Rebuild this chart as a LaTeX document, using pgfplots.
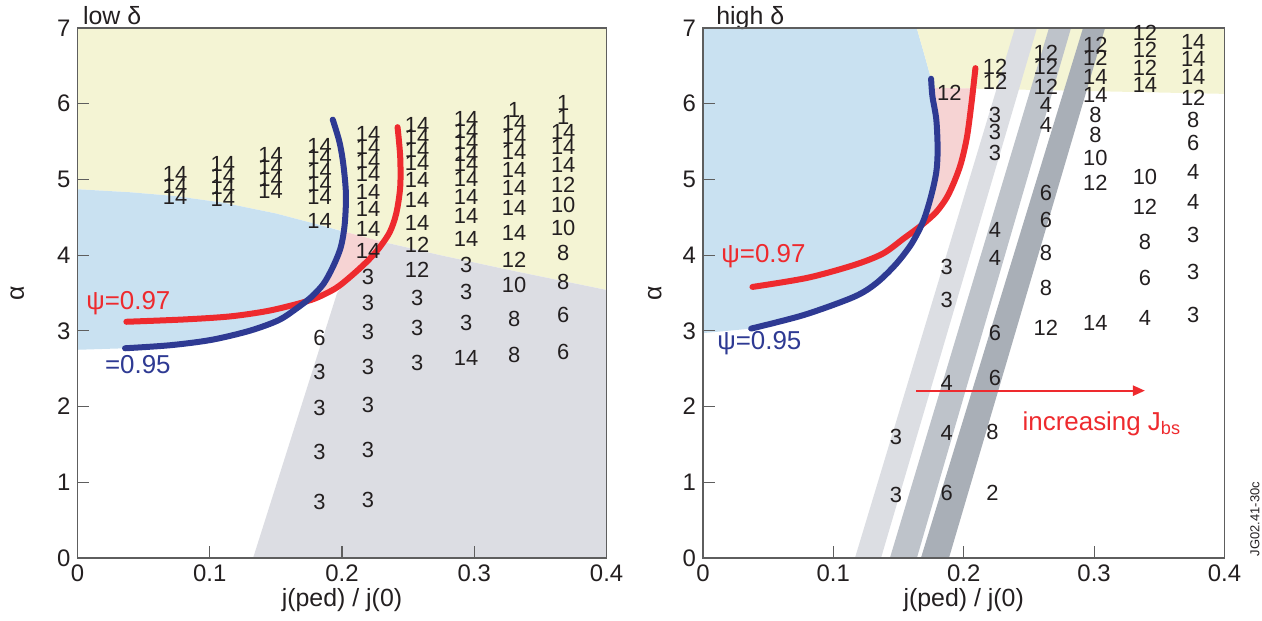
\documentclass[border=0pt]{standalone}
\usepackage{fontspec}
\setmainfont{Liberation Sans}
\usepackage{pgfplots}
\usepackage{pgfplotstable}
\pgfplotsset{compat=1.18}
\usetikzlibrary{arrows.meta}

\definecolor{bgyel}{HTML}{F4F4D4}
\definecolor{bgblue}{HTML}{C9E1F1}
\definecolor{bgpink}{HTML}{F6D3D3}
\definecolor{bggray}{HTML}{DCDDE3}
\definecolor{bandA}{HTML}{DCDEE3}
\definecolor{bandB}{HTML}{BEC3CA}
\definecolor{bandC}{HTML}{A9AFB7}
\definecolor{psired}{HTML}{EE2A2E}
\definecolor{psiblue}{HTML}{2E3A93}
\definecolor{numtxt}{HTML}{231F20}
\definecolor{axgray}{HTML}{5E5E5E}

\newcommand\fnum{\fontsize{11}{12}\selectfont}
\newcommand\flab{\fontsize{12.5}{15}\selectfont}
\newcommand\fpsi{\fontsize{13}{15}\selectfont}

% numbers written in the low delta panel
\pgfplotstableread{
x y lab
0.0738 5.07 14
0.0738 4.91 14
0.0738 4.77 14
0.110 5.20 14
0.110 5.05 14
0.110 4.90 14
0.110 4.74 14
0.146 5.32 14
0.146 5.17 14
0.146 5.01 14
0.146 4.85 14
0.183 5.44 14
0.183 5.30 14
0.183 5.11 14
0.183 4.94 14
0.183 4.77 14
0.183 4.45 14
0.183 2.91 6
0.183 2.46 3
0.183 1.98 3
0.183 1.40 3
0.183 0.74 3
0.2197 5.60 14
0.2197 5.43 14
0.2197 5.24 14
0.2197 5.07 14
0.2197 4.83 14
0.2197 4.61 14
0.2197 4.35 14
0.2197 4.06 14
0.2197 3.71 3
0.2197 3.37 3
0.2197 2.99 3
0.2197 2.52 3
0.2197 2.02 3
0.2197 1.43 3
0.2197 0.77 3
0.2568 5.72 14
0.2568 5.56 14
0.2568 5.39 14
0.2568 5.22 14
0.2568 4.99 14
0.2568 4.73 14
0.2568 4.43 14
0.2568 4.13 12
0.2568 3.80 12
0.2568 3.43 3
0.2568 3.04 3
0.2568 2.58 3
0.2938 5.80 14
0.2938 5.64 14
0.2938 5.50 14
0.2938 5.34 14
0.2938 5.20 14
0.2938 5.01 14
0.2938 4.77 14
0.2938 4.52 14
0.2938 4.21 14
0.2938 3.87 3
0.2938 3.51 3
0.2938 3.10 3
0.2938 2.64 14
0.3301 5.92 1
0.3301 5.75 14
0.3301 5.56 14
0.3301 5.36 14
0.3301 5.13 14
0.3301 4.89 14
0.3301 4.62 14
0.3301 4.29 14
0.3301 3.94 12
0.3301 3.61 10
0.3301 3.16 8
0.3301 2.68 8
0.3672 6.01 1
0.3672 5.83 1
0.3672 5.63 14
0.3672 5.43 14
0.3672 5.19 14
0.3672 4.93 12
0.3672 4.66 10
0.3672 4.36 10
0.3672 4.03 8
0.3672 3.65 8
0.3672 3.21 6
0.3672 2.72 6
}\lowlab

% numbers written in the high delta panel
\pgfplotstableread{
x y lab
0.148 1.60 3
0.148 0.83 3
0.189 6.14 12
0.187 3.84 3
0.187 3.41 3
0.187 2.31 4
0.187 1.65 4
0.187 0.86 6
0.224 6.49 12
0.224 6.29 12
0.224 5.85 3
0.224 5.63 3
0.224 5.35 3
0.224 4.33 4
0.224 3.96 4
0.224 2.97 6
0.224 2.38 6
0.222 1.66 8
0.222 0.86 2
0.263 6.67 12
0.263 6.49 12
0.263 6.22 12
0.263 5.98 4
0.263 5.72 4
0.263 4.82 6
0.263 4.47 6
0.263 4.03 8
0.263 3.57 8
0.263 3.04 12
0.301 6.78 12
0.301 6.61 12
0.301 6.35 14
0.301 6.12 14
0.301 5.85 8
0.301 5.59 8
0.301 5.28 10
0.301 4.95 12
0.301 3.10 14
0.339 6.94 12
0.339 6.71 12
0.339 6.47 12
0.339 6.25 14
0.339 5.03 10
0.339 4.64 12
0.339 4.17 8
0.339 3.70 6
0.339 3.17 4
0.376 6.82 14
0.376 6.59 14
0.376 6.35 14
0.376 6.08 12
0.376 5.79 8
0.376 5.48 6
0.376 5.10 4
0.376 4.70 4
0.376 4.27 3
0.376 3.78 3
0.376 3.21 3
}\highlab

\pgfplotsset{
  panel/.style={
    scale only axis, height=265bp, anchor=south west,
    xmin=0, xmax=0.4, ymin=0, ymax=7,
    xtick={0,0.1,0.2,0.3,0.4}, xticklabels={0,0.1,0.2,0.3,0.4},
    ytick={0,1,2,3,4,5,6,7},
    tick pos=left, tick align=inside, major tick length=6bp,
    axis line style={axgray, line width=0.6bp},
    tick style={axgray, line width=0.6bp},
    tick label style={font=\fontsize{12}{14}\selectfont, text=numtxt},
    /pgf/number format/assume math mode=true,
    clip=false, axis on top,
    xlabel={j(ped) / j(0)}, ylabel={α},
    every axis x label/.style={at={([yshift=-21bp]rel axis cs:0.5,0)}, anchor=center, font=\flab, text=numtxt},
  },
  numlabels/.style={draw=none, nodes near coords, point meta=explicit symbolic,
    nodes near coords style={anchor=center, inner sep=0pt, font=\fnum, text=numtxt}},
  psi/.style={line width=3bp, line cap=round, line join=round, smooth},
}

\begin{document}
\begin{tikzpicture}
\path[use as bounding box] (0,0) rectangle (631bp,310.5bp);

% ---------------- low delta ----------------
\begin{axis}[panel, width=264.6bp, at={(38.7bp,31.5bp)},
  axis background/.style={fill=bgyel},
  every axis y label/.style={at={([xshift=-30bp]rel axis cs:0,0.5)}, rotate=90, anchor=center, font=\flab, text=numtxt}]
% region under the boundary
\addplot[fill=white, draw=none] coordinates {(0,0) (0,4.87) (0.04,4.83) (0.074,4.78) (0.111,4.69) (0.15,4.55) (0.187,4.38) (0.204,4.30) (0.232,4.17) (0.274,4.0) (0.33,3.79) (0.4,3.54) (0.4,0)} -- cycle;
\addplot[fill=bggray, draw=none] coordinates {(0.1328,0) (0.1963,3.5) (0.206,3.71) (0.218,3.9) (0.227,4.07) (0.232,4.17) (0.274,4.0) (0.33,3.79) (0.4,3.54) (0.4,0)} -- cycle;
\addplot[fill=bgblue, draw=none] coordinates {(0,2.75) (0.036,2.77) (0.07,2.81) (0.101,2.88) (0.13,3.0) (0.152,3.14) (0.166,3.3) (0.177,3.45) (0.186,3.62) (0.193,3.84) (0.199,4.1) (0.201,4.31) (0.187,4.38) (0.15,4.55) (0.111,4.69) (0.074,4.78) (0.04,4.83) (0,4.87)} -- cycle;
\addplot[fill=bgpink, draw=none] coordinates {(0.177,3.42) (0.186,3.62) (0.193,3.84) (0.199,4.1) (0.201,4.31) (0.204,4.30) (0.232,4.17) (0.227,4.07) (0.218,3.9) (0.206,3.71) (0.195,3.56) (0.185,3.47)} -- cycle;
% psi curves
\addplot[psi, psired] coordinates {(0.037,3.12) (0.08,3.15) (0.115,3.19) (0.143,3.26) (0.165,3.35) (0.18,3.43) (0.195,3.56) (0.206,3.71) (0.218,3.9) (0.227,4.07) (0.236,4.3) (0.241,4.55) (0.244,4.9) (0.244,5.3) (0.242,5.69)};
\addplot[psi, psiblue] coordinates {(0.036,2.77) (0.07,2.81) (0.101,2.88) (0.13,3.0) (0.152,3.14) (0.166,3.3) (0.177,3.45) (0.186,3.62) (0.193,3.84) (0.199,4.1) (0.202,4.4) (0.203,4.8) (0.201,5.2) (0.198,5.5) (0.193,5.79)};
\addplot[numlabels] table[x=x, y=y, meta=lab] {\lowlab};
\node[anchor=base west, inner sep=0pt, font=\fpsi, text=psired] at (axis cs:0.0065,3.28) {ψ=0.97};
\node[anchor=base west, inner sep=0pt, font=\fpsi, text=psiblue] at (axis cs:0.0206,2.44) {=0.95};
\node[anchor=base west, inner sep=0pt, font=\flab, text=numtxt, yshift=1.5bp] at (axis cs:0.004,7) {low δ};
\end{axis}

% ---------------- high delta ----------------
\begin{axis}[panel, width=260.8bp, at={(351.45bp,31.5bp)},
  every axis y label/.style={at={([xshift=-24bp]rel axis cs:0,0.5)}, rotate=90, anchor=center, font=\flab, text=numtxt}]
\addplot[fill=bgblue, draw=none] coordinates {(0,2.97) (0.037,3.03) (0.0775,3.21) (0.116,3.45) (0.133,3.63) (0.148,3.88) (0.16,4.15) (0.169,4.45) (0.175,4.78) (0.179,5.1) (0.18,5.4) (0.179,5.79) (0.176,6.1) (0.175,6.33) (0.1695,6.67) (0.164,7) (0,7)} -- cycle;
\addplot[fill=bgyel, draw=none] coordinates {(0.164,7) (0.4,7) (0.4,6.13) (0.176,6.21) (0.175,6.33) (0.1695,6.67)} -- cycle;
\addplot[fill=bgpink, draw=none] coordinates {(0.167,4.40) (0.169,4.45) (0.175,4.78) (0.179,5.1) (0.18,5.4) (0.179,5.79) (0.176,6.1) (0.176,6.21) (0.208,6.20) (0.206,6.01) (0.2025,5.56) (0.198,5.22) (0.193,4.98) (0.187,4.76) (0.179,4.57)} -- cycle;
% bootstrap current bands
\addplot[fill=bandA, draw=none] coordinates {(0.1166,0) (0.1366,0) (0.2562,7) (0.2393,7)} -- cycle;
\addplot[fill=bandB, draw=none] coordinates {(0.1434,0) (0.1641,0) (0.2823,7) (0.2654,7)} -- cycle;
\addplot[fill=bandC, draw=none] coordinates {(0.1672,0) (0.1887,0) (0.3084,7) (0.2915,7)} -- cycle;
\addplot[psi, psired] coordinates {(0.038,3.58) (0.08,3.7) (0.116,3.87) (0.138,4.02) (0.154,4.22) (0.168,4.40) (0.179,4.57) (0.187,4.76) (0.193,4.98) (0.198,5.22) (0.2025,5.56) (0.206,6.01) (0.209,6.47)};
\addplot[psi, psiblue] coordinates {(0.037,3.03) (0.0775,3.21) (0.116,3.45) (0.133,3.63) (0.148,3.88) (0.16,4.15) (0.169,4.45) (0.175,4.78) (0.179,5.1) (0.18,5.4) (0.179,5.79) (0.176,6.1) (0.175,6.33)};
\addplot[numlabels] table[x=x, y=y, meta=lab] {\highlab};
\addplot[psired, line width=1.1bp, -{Triangle[length=6bp,width=5bp]}] coordinates {(0.1637,2.21) (0.339,2.21)};
\node[anchor=base, inner sep=0pt, font=\fpsi, text=psired] at (axis cs:0.306,1.69) {increasing J\textsubscript{bs}};
\node[anchor=base west, inner sep=0pt, font=\fpsi, text=psired] at (axis cs:0.0139,3.90) {ψ=0.97};
\node[anchor=base west, inner sep=0pt, font=\fpsi, text=psiblue] at (axis cs:0.0108,2.75) {ψ=0.95};
\node[anchor=base west, inner sep=0pt, font=\flab, text=numtxt, yshift=1.5bp] at (axis cs:0.01,7) {high δ};
\end{axis}

\node[rotate=90, inner sep=0pt, font=\fontsize{6.5}{7}\selectfont, text=numtxt] at (627.5bp,51bp) {JG02.41-30c};
\end{tikzpicture}
\end{document}
